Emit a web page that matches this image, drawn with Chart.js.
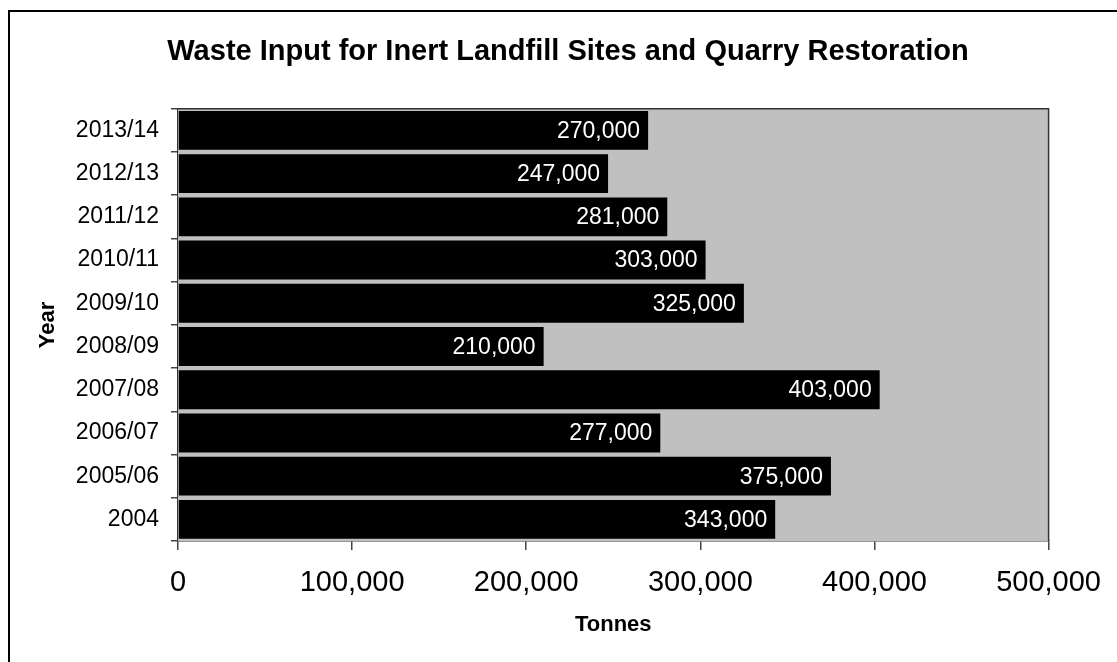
<!DOCTYPE html>
<html>
<head>
<meta charset="utf-8">
<script src="https://cdn.jsdelivr.net/npm/chart.js@4"></script>
<style>
  html, body { margin: 0; padding: 0; background: #fff; }
  #wrap { position: relative; width: 1117px; height: 662px; overflow: hidden; }
  #frame { position: absolute; left: 8px; top: 10px; width: 1200px; height: 800px; border-left: 2px solid #000; border-top: 2px solid #000; }
  canvas { position: absolute; left: 0; top: 0; }
</style>
</head>
<body>
<div id="wrap">
  <div id="frame"></div>
  <canvas id="grafico" width="1117" height="662"></canvas>
</div>
<script>
const anos = ['2013/14', '2012/13', '2011/12', '2010/11', '2009/10', '2008/09', '2007/08', '2006/07', '2005/06', '2004'];
const toneladas = [270000, 247000, 281000, 303000, 325000, 210000, 403000, 277000, 375000, 343000];
const xTicks = [0, 100000, 200000, 300000, 400000, 500000];

const fonte = '"Liberation Sans", Arial, sans-serif';

const fundoPlot = {
    id: 'fundoPlot',
    beforeDatasetsDraw(chart) {
        const { ctx, chartArea: a } = chart;
        ctx.save();
        ctx.fillStyle = '#c0c0c0';
        ctx.fillRect(a.left, a.top, a.right - a.left, a.bottom - a.top);
        ctx.restore();
    },
    afterDatasetsDraw(chart) {
        const { ctx, chartArea: a } = chart;
        ctx.save();
        ctx.strokeStyle = '#333';
        ctx.lineWidth = 1.5;
        ctx.beginPath();
        ctx.moveTo(a.left, a.top);
        ctx.lineTo(a.right, a.top);
        ctx.lineTo(a.right, a.bottom);
        ctx.stroke();

        // valores dentro das barras
        const meta = chart.getDatasetMeta(0);
        ctx.fillStyle = '#fff';
        ctx.font = '23px ' + fonte;
        ctx.textAlign = 'right';
        ctx.textBaseline = 'middle';
        meta.data.forEach((bar, i) => {
            ctx.fillText(toneladas[i].toLocaleString('en-US'), bar.x - 8, bar.y + 1);
        });
        ctx.restore();
    }
};

new Chart(document.getElementById('grafico'), {
    type: 'bar',
    data: {
        labels: anos,
        datasets: [{
            data: toneladas,
            backgroundColor: '#000',
            borderWidth: 0,
            barPercentage: 0.9,
            categoryPercentage: 1.0,
        }],
    },
    options: {
        indexAxis: 'y',
        responsive: false,
        animation: false,
        layout: { padding: { left: 19, right: 0, top: 0, bottom: 0 } },
        plugins: {
            legend: { display: false },
            tooltip: { enabled: false },
            title: {
                display: true,
                text: 'Waste Input for Inert Landfill Sites and Quarry Restoration',
                color: '#000',
                font: { family: fonte, size: 29, weight: 'bold' },
                padding: { top: 35, bottom: 39 },
            },
        },
        scales: {
            x: {
                min: 0,
                max: 500000,
                afterFit: (s) => { s.height = 121; },
                afterBuildTicks: (s) => { s.ticks = xTicks.map((v) => ({ value: v })); },
                ticks: {
                    color: '#000',
                    font: { family: fonte, size: 29 },
                    padding: 16,
                    maxRotation: 0,
                    callback: (v) => Number(v).toLocaleString('en-US'),
                },
                grid: { drawOnChartArea: false, tickLength: 9, color: '#444', lineWidth: 1.5 },
                border: { color: '#333', width: 1.5 },
                title: {
                    display: true,
                    text: 'Tonnes',
                    color: '#000',
                    font: { family: fonte, size: 22, weight: 'bold' },
                    padding: { top: 0, bottom: 24 },
                },
            },
            y: {
                afterFit: (s) => { s.width = 159; },
                ticks: {
                    color: '#000',
                    font: { family: fonte, size: 23 },
                    padding: 12,
                },
                grid: { drawOnChartArea: false, tickLength: 7, color: '#444', lineWidth: 1.5, offset: true },
                border: { color: '#333', width: 1.5 },
                title: {
                    display: true,
                    text: 'Year',
                    color: '#000',
                    font: { family: fonte, size: 22, weight: 'bold' },
                    padding: { top: 16, bottom: 0 },
                },
            },
            // espaço vazio à direita do gráfico
            margemDireita: {
                type: 'linear',
                position: 'right',
                afterFit: (s) => { s.width = 65; },
                ticks: { display: false },
                grid: { display: false },
                border: { display: false },
            },
        },
    },
    plugins: [fundoPlot],
});
</script>
</body>
</html>
